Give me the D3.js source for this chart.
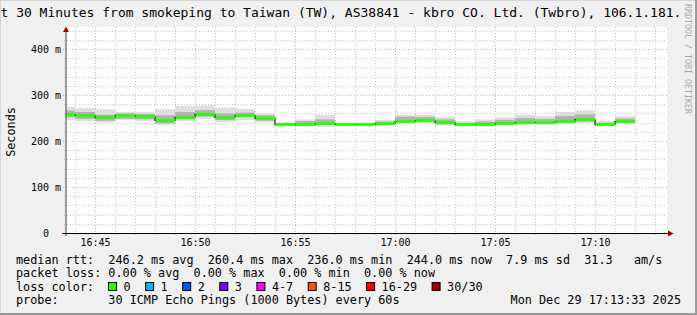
<!DOCTYPE html>
<html>
<head>
<meta charset="utf-8">
<script src="https://cdn.jsdelivr.net/npm/d3@7"></script>
<style>
    html, body { margin: 0; padding: 0; background: #f0f0f0; }
    svg { display: block; }
    text { font-family: "DejaVu Sans Mono", monospace; white-space: pre; }
</style>
</head>
<body>
<div id="chart"></div>
<script>
// one step per minute, start time of each step (UTC used only as a clock)
const stepStarts = ["16:43", "16:44", "16:45", "16:46", "16:47", "16:48", "16:49", "16:50", "16:51", "16:52",
    "16:53", "16:54", "16:55", "16:56", "16:57", "16:58", "16:59", "17:00", "17:01", "17:02",
    "17:03", "17:04", "17:05", "17:06", "17:07", "17:08", "17:09", "17:10", "17:11"];

// median rtt per step (ms)
const medianMs = [258, 256, 251.5, 256, 253.7, 245, 252, 259, 253, 256.5,
    249, 236, 238, 240, 236, 236, 240, 244, 245, 242,
    236, 236, 238.5, 242, 241, 243, 248, 237, 244];

// smoke: outer (min/max) and inner spread of the pings (ms)
const smokeMin = [245.7, 243, 240, 246, 243, 235.5, 243, 248.5, 241, 245.6,
    241, 233, 233, 231, 233, 233, 234, 238.5, 238.5, 234,
    232.6, 232.6, 234, 235.5, 235, 237, 239, 233, 237];
const smokeMax = [274.6, 272, 269, 263, 263, 269, 276, 277.6, 273, 270,
    260, 240, 247, 257, 239, 239, 245.6, 257, 257, 251.5,
    243, 247, 251.5, 257, 254, 263, 267, 243, 254];
const smokeLo = [251.5, 248, 244, 248, 247, 238, 247, 253, 245.6, 251.5,
    244, 234, 234, 235.5, 234.5, 235, 235, 241, 241, 236,
    234, 234, 236, 238, 238, 239, 242, 234, 239];
const smokeHi = [265.9, 263, 257, 260, 258.7, 256, 263, 267, 260, 261.6,
    256, 238, 243, 247, 237, 237, 242, 253, 252, 247,
    239, 242, 246, 250, 248, 254, 258, 240, 249];

// axes
const xTickLabels = ["16:45", "16:50", "16:55", "17:00", "17:05", "17:10"];
const yTickValues = [0, 0.1, 0.2, 0.3, 0.4];
const yTickLabels = ["0", "100 m", "200 m", "300 m", "400 m"];

// legend
const statLines = [
    "median rtt:  246.2 ms avg  260.4 ms max  236.0 ms min  244.0 ms now  7.9 ms sd  31.3   am/s",
    "packet loss: 0.00 % avg  0.00 % max  0.00 % min  0.00 % now"
];
const lossLabels = ["0", "1", "2", "3", "4-7", "8-15", "16-29", "30/30"];
const lossColors = ["#26ff00", "#00b8ff", "#0059ff", "#7e00ff", "#ff00ff", "#ff5500", "#ff0000", "#a10000"];
const probeText = "probe:       30 ICMP Echo Pings (1000 Bytes) every 60s";
const dateText = "Mon Dec 29 17:13:33 2025";
const titleText = "Last 30 Minutes from smokeping to Taiwan (TW), AS38841 - kbro CO. Ltd. (Twbro), 106.1.181.";

function init() {
    const w = 697, h = 315;
    const left = 66, right = 667, top = 27, bottom = 233;
    const charW = 7.1; // legend font advance

    const t = s => {
        const [hh, mm] = s.split(":").map(Number);
        return new Date(Date.UTC(2025, 11, 29, hh, mm, 0));
    };
    const tStart = new Date(Date.UTC(2025, 11, 29, 16, 43, 33));
    const tEnd = new Date(Date.UTC(2025, 11, 29, 17, 13, 33));

    const x = d3.scaleUtc().domain([tStart, tEnd]).range([left, right - 1]);
    const yMax = 0.4 * (bottom - top) / (bottom - 49);
    const y = d3.scaleLinear().domain([0, yMax]).range([bottom, top]);

    const steps = stepStarts.map((s, i) => ({
        t0: t(s),
        t1: d3.utcMinute.offset(t(s), 1),
        med: medianMs[i] / 1000,
        min: smokeMin[i] / 1000,
        max: smokeMax[i] / 1000,
        lo: smokeLo[i] / 1000,
        hi: smokeHi[i] / 1000
    }));

    const svg = d3.select("#chart").append("svg")
        .attr("width", w)
        .attr("height", h);

    // background + 3d frame
    svg.append("rect").attr("width", w).attr("height", h).attr("fill", "#f0f0f0");
    svg.append("path").attr("d", `M0,${h} V0 H${w}`).attr("stroke", "#d6d6d6").attr("stroke-width", 2).attr("fill", "none");
    svg.append("path").attr("d", `M0,${h - 1} H${w - 1} V0`).attr("stroke", "#9a9a9a").attr("stroke-width", 2).attr("fill", "none");

    // canvas
    svg.append("rect")
        .attr("x", left).attr("y", top)
        .attr("width", right - left).attr("height", bottom - top)
        .attr("fill", "#ffffff");

    svg.append("clipPath").attr("id", "clip")
        .append("rect")
        .attr("x", left).attr("y", top)
        .attr("width", right - left).attr("height", bottom - top);

    // grid: minutes and 20 ms
    const minutes = x.ticks(d3.utcMinute.every(1));
    const isMajorT = d => d.getUTCMinutes() % 5 === 0;
    const grid = svg.append("g");
    grid.selectAll("line.vg")
        .data(minutes)
        .enter().append("line")
        .attr("x1", d => Math.round(x(d)) + 0.5).attr("x2", d => Math.round(x(d)) + 0.5)
        .attr("y1", top).attr("y2", d => bottom + (isMajorT(d) ? 3 : 2))
        .attr("stroke", d => isMajorT(d) ? "#dca8a8" : "#c4c4c4")
        .attr("stroke-dasharray", "1,2");

    const yMinor = d3.range(1, Math.floor(yMax / 0.02) + 1).map(i => i * 0.02);
    const isMajorY = d => Math.abs(d * 10 - Math.round(d * 10)) < 1e-6;
    grid.selectAll("line.hg")
        .data(yMinor)
        .enter().append("line")
        .attr("y1", d => Math.round(y(d)) + 0.5).attr("y2", d => Math.round(y(d)) + 0.5)
        .attr("x1", d => left - (isMajorY(d) ? 3 : 2)).attr("x2", right)
        .attr("stroke", d => isMajorY(d) ? "#dca8a8" : "#c4c4c4")
        .attr("stroke-dasharray", "1,2");

    // smoke
    const plot = svg.append("g").attr("clip-path", "url(#clip)");
    plot.selectAll("rect.outer")
        .data(steps)
        .enter().append("rect")
        .attr("x", d => x(d.t0)).attr("width", d => x(d.t1) - x(d.t0))
        .attr("y", d => y(d.max)).attr("height", d => y(d.min) - y(d.max))
        .attr("fill", "#dedede");
    plot.selectAll("rect.inner")
        .data(steps)
        .enter().append("rect")
        .attr("x", d => x(d.t0)).attr("width", d => x(d.t1) - x(d.t0))
        .attr("y", d => y(d.hi)).attr("height", d => y(d.lo) - y(d.hi))
        .attr("fill", "#b2b2b2");

    // median line (dark) and loss coloured band
    const pts = steps.map(d => [d.t0, d.med]);
    pts.push([steps[steps.length - 1].t1, steps[steps.length - 1].med]);
    plot.append("path")
        .datum(pts)
        .attr("d", d3.line().x(d => x(d[0])).y(d => Math.round(y(d[1])) + 0.5).curve(d3.curveStepAfter))
        .attr("fill", "none")
        .attr("stroke", "#202020")
        .attr("stroke-width", 1.2);
    plot.selectAll("rect.med")
        .data(steps)
        .enter().append("rect")
        .attr("x", d => x(d.t0) + 0.6).attr("width", d => x(d.t1) - x(d.t0) - 0.6)
        .attr("y", d => Math.round(y(d.med)) + 0.5 - 1.4).attr("height", 2.8)
        .attr("fill", lossColors[0]);

    // axes lines
    svg.append("line")
        .attr("x1", left).attr("x2", left).attr("y1", bottom + 3).attr("y2", top + 3)
        .attr("stroke", "#404040");
    svg.append("line")
        .attr("x1", left - 4).attr("x2", right + 1).attr("y1", bottom + 0.5).attr("y2", bottom + 0.5)
        .attr("stroke", "#000000");
    svg.append("path")
        .attr("d", `M${right + 1},${bottom - 2.5} L${right + 6.5},${bottom + 0.5} L${right + 1},${bottom + 3.5} Z`)
        .attr("fill", "#a00000");
    svg.append("path")
        .attr("d", `M${left - 3},${top + 5} L${left},${top - 0.5} L${left + 3},${top + 5} Z`)
        .attr("fill", "#a00000");

    // x labels
    const xAxis = d3.axisBottom(x)
        .tickValues(xTickLabels.map(t))
        .tickFormat(d3.utcFormat("%H:%M"))
        .tickSize(0);
    const gx = svg.append("g")
        .attr("transform", `translate(0,${bottom})`)
        .call(xAxis);
    gx.select(".domain").remove();
    gx.selectAll("text")
        .attr("y", 13).attr("dy", 0)
        .attr("font-family", "DejaVu Sans Mono")
        .attr("font-size", "10px")
        .attr("fill", "#000");

    // y labels (unit-less "0" keeps the unit column free)
    const yAxis = d3.axisLeft(y)
        .tickValues(yTickValues)
        .tickFormat((d, i) => yTickLabels[i])
        .tickSize(0);
    const gy = svg.append("g")
        .attr("transform", "translate(61,0)")
        .call(yAxis);
    gy.select(".domain").remove();
    gy.selectAll("text")
        .attr("x", (d, i) => yTickLabels[i].endsWith(" m") ? 0 : -12)
        .attr("dy", "0.35em")
        .attr("font-family", "DejaVu Sans Mono")
        .attr("font-size", "10px")
        .attr("fill", "#000");

    svg.append("text")
        .attr("transform", "translate(15,132) rotate(-90)")
        .attr("text-anchor", "middle")
        .attr("font-size", "11.8px")
        .attr("fill", "#000")
        .text("Seconds");

    // title
    svg.append("text")
        .attr("x", -23).attr("y", 17)
        .attr("font-size", "13px")
        .attr("fill", "#000")
        .text(titleText);

    // watermark
    svg.append("text")
        .attr("transform", "translate(685,4) rotate(90)")
        .attr("font-size", "8.3px")
        .attr("fill", "#aaaaaa")
        .text("RRDTOOL / TOBI OETIKER");

    // legend
    const legend = svg.append("g").attr("font-size", "11.8px").attr("fill", "#000");
    statLines.forEach((s, i) => {
        legend.append("text").attr("x", 16).attr("y", 263.5 + i * 13.6).text(s);
    });
    legend.append("text").attr("x", 16).attr("y", 290.8).text("loss color:");
    let bx = 108.5;
    lossLabels.forEach((lab, i) => {
        legend.append("rect")
            .attr("x", bx).attr("y", 282.5)
            .attr("width", 8).attr("height", 8)
            .attr("fill", lossColors[i])
            .attr("stroke", "#000");
        legend.append("text").attr("x", bx + 15).attr("y", 290.8).text(lab);
        bx += 30 + charW * lab.length;
    });
    legend.append("text").attr("x", 16).attr("y", 304.4).text(probeText);
    legend.append("text").attr("x", 681).attr("y", 304.4).attr("text-anchor", "end").text(dateText);
}

window.onload = init;
</script>
</body>
</html>
